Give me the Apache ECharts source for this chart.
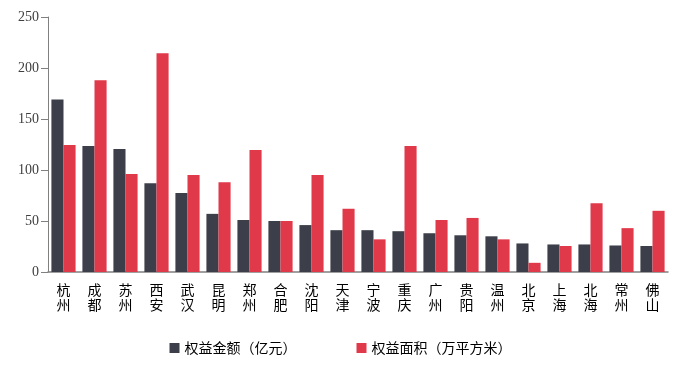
<!DOCTYPE html>
<html><head><meta charset="utf-8">
<script src="https://cdn.jsdelivr.net/npm/echarts@6/dist/echarts.min.js"></script>
<style>html,body{margin:0;padding:0;background:#fff}#c{width:681px;height:368px}</style>
</head><body><div id="c"></div>
<script>
var cities = ['杭州','成都','苏州','西安','武汉','昆明','郑州','合肥','沈阳','天津','宁波','重庆','广州','贵阳','温州','北京','上海','北海','常州','佛山'];
var amount = [169,123.5,120.5,87,77.5,57,51,50,46,41,41,40,38,36,35,28,27,27,26,25.5];
var area = [124.5,188,96,214.5,95,88,119.5,50,95,62,32,123.5,51,53,32,9,25.5,67.5,43,60];
var seriesNames = ['权益金额（亿元）','权益面积（万平方米）'];
var yTicks = {min:0,max:250,interval:50};

var chart = echarts.init(document.getElementById('c'));
chart.setOption({
  animation:false,
  grid:{left:48,right:13,top:17,bottom:96},
  legend:{bottom:8,left:'center',itemWidth:10,itemHeight:10,itemGap:60,icon:'rect',
    textStyle:{fontFamily:'Noto Sans CJK SC',fontSize:14,color:'#000'}},
  xAxis:{type:'category',data:cities.map(function(c){return c.split('').join('\n');}),
    axisLine:{lineStyle:{color:'#808080',width:1.5}},
    axisTick:{length:5,lineStyle:{color:'#808080'}},
    axisLabel:{interval:0,fontFamily:'Noto Sans CJK SC',fontSize:14,lineHeight:15,color:'#000',margin:10}},
  yAxis:{type:'value',min:yTicks.min,max:yTicks.max,interval:yTicks.interval,
    axisLine:{show:true,lineStyle:{color:'#808080'}},
    axisTick:{show:true,length:7,lineStyle:{color:'#808080'}},
    splitLine:{show:false},
    axisLabel:{fontFamily:'"Liberation Serif", serif',fontSize:14,color:'#404040',margin:9}},
  series:[
    {name:seriesNames[0],type:'bar',data:amount,barGap:'0%',barCategoryGap:'22%',itemStyle:{color:'#3c3f49'}},
    {name:seriesNames[1],type:'bar',data:area,barGap:'0%',barCategoryGap:'22%',itemStyle:{color:'#e0394a'}}
  ]
});
</script></body></html>
